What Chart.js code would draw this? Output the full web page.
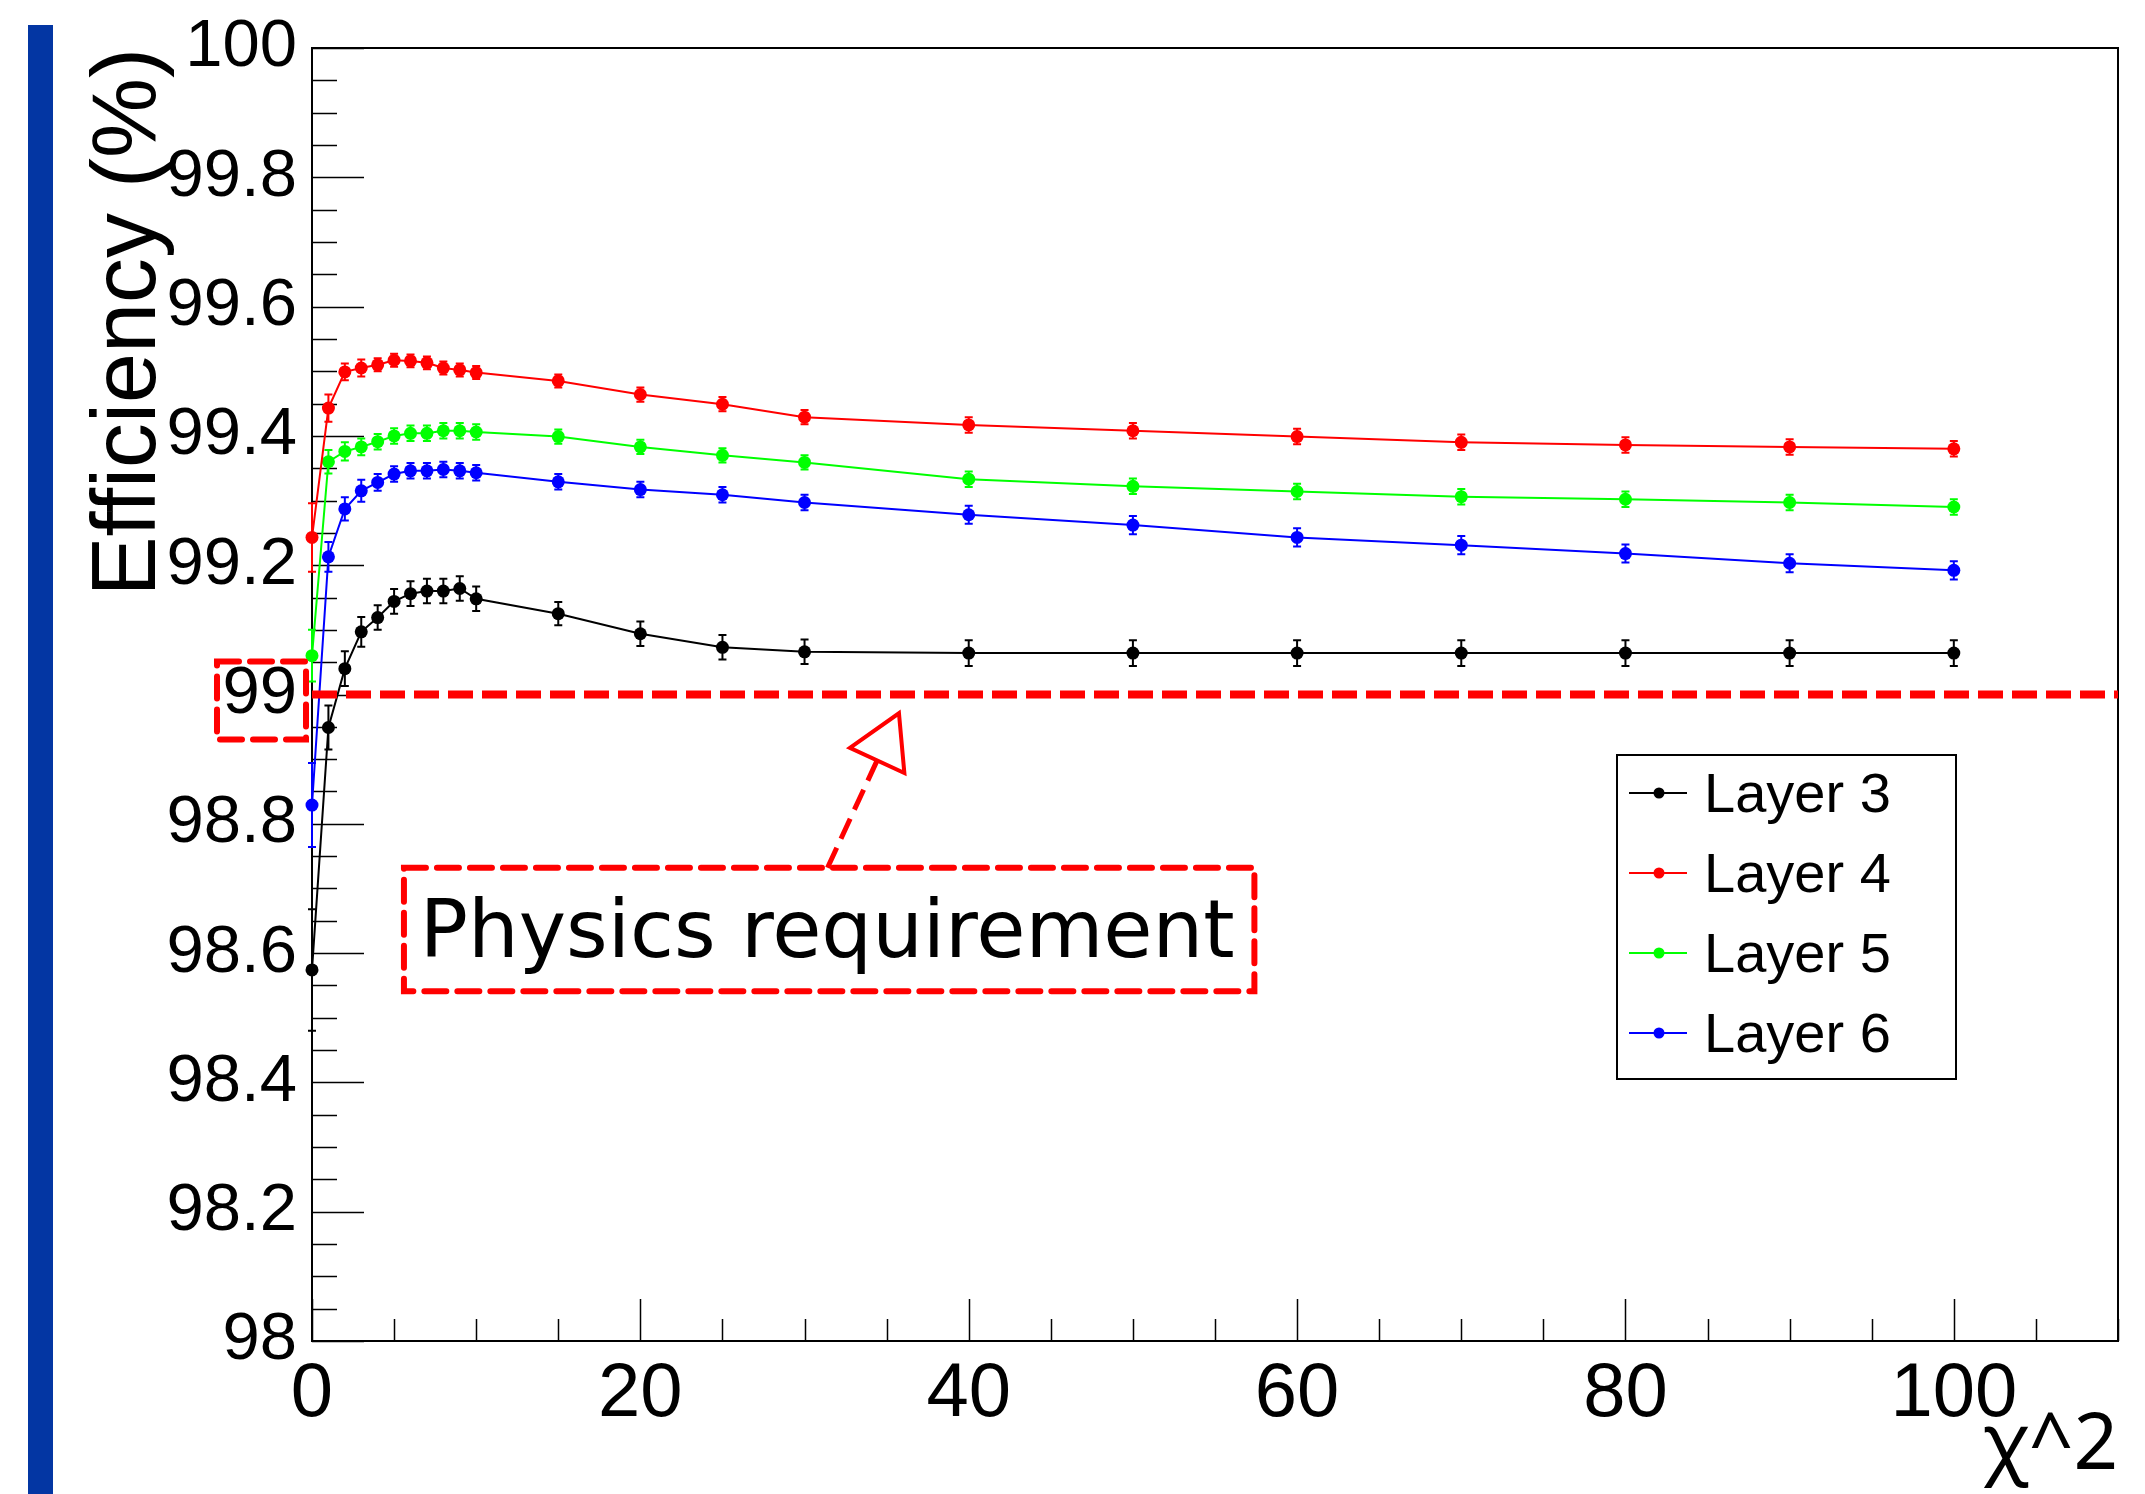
<!DOCTYPE html>
<html>
<head>
<meta charset="utf-8">
<title>Efficiency vs chi2 cut</title>
<script src="https://cdn.jsdelivr.net/npm/chart.js@4.4.0/dist/chart.umd.min.js"></script>
<style>
  html, body { margin: 0; padding: 0; background: #fff; }
  #wrap { position: relative; width: 2145px; height: 1494px; }
  #bar { position: absolute; left: 28px; top: 25px; width: 25px; height: 1469px; background: #0336a3; }
  canvas { position: absolute; left: 0; top: 0; }
</style>
</head>
<body>
<div id="wrap">
  <div id="bar"></div>
  <canvas id="effChart" width="2145" height="1494"></canvas>
</div>
<script>
// chi2 cut values (x) and efficiency (%) per layer
const chi2Cut = [0, 1, 2, 3, 4, 5, 6, 7, 8, 9, 10, 15, 20, 25, 30, 40, 50, 60, 70, 80, 90, 100];

const layer3 = [98.574, 98.949, 99.040, 99.097, 99.119, 99.144, 99.156, 99.160, 99.160, 99.164, 99.148,
                99.125, 99.094, 99.073, 99.066, 99.064, 99.064, 99.064, 99.064, 99.064, 99.064, 99.064];
const layer4 = [99.243, 99.443, 99.499, 99.505, 99.510, 99.517, 99.516, 99.513, 99.505, 99.502, 99.498,
                99.485, 99.464, 99.449, 99.429, 99.417, 99.408, 99.399, 99.390, 99.386, 99.383, 99.380];
const layer5 = [99.060, 99.360, 99.376, 99.383, 99.391, 99.400, 99.404, 99.404, 99.408, 99.408, 99.406,
                99.399, 99.383, 99.370, 99.359, 99.333, 99.322, 99.314, 99.306, 99.302, 99.297, 99.290];
const layer6 = [98.829, 99.213, 99.287, 99.315, 99.328, 99.341, 99.346, 99.346, 99.348, 99.346, 99.343,
                99.329, 99.317, 99.309, 99.297, 99.278, 99.262, 99.243, 99.231, 99.218, 99.203, 99.192];

// error bars (half widths, %)
const err3 = [0.094, 0.034, 0.027, 0.023, 0.019, 0.019, 0.019, 0.019, 0.019, 0.019, 0.019,
              0.018, 0.019, 0.019, 0.019, 0.020, 0.020, 0.020, 0.020, 0.020, 0.020, 0.020];
const err4 = [0.053, 0.021, 0.013, 0.013, 0.010, 0.010, 0.010, 0.010, 0.010, 0.010, 0.010,
              0.010, 0.011, 0.011, 0.011, 0.012, 0.012, 0.012, 0.012, 0.012, 0.012, 0.012];
const err5 = [0.040, 0.018, 0.014, 0.013, 0.012, 0.012, 0.012, 0.012, 0.012, 0.012, 0.012,
              0.011, 0.011, 0.011, 0.011, 0.012, 0.012, 0.012, 0.012, 0.012, 0.012, 0.012];
const err6 = [0.065, 0.023, 0.018, 0.017, 0.013, 0.012, 0.012, 0.012, 0.012, 0.012, 0.012,
              0.012, 0.012, 0.012, 0.012, 0.014, 0.014, 0.014, 0.014, 0.014, 0.014, 0.014];

const layerNames = ['Layer 3', 'Layer 4', 'Layer 5', 'Layer 6'];
const layerColors = ['#000000', '#ff0000', '#00ff00', '#0000ff'];

const xTicks = [0, 20, 40, 60, 80, 100];
const yTicks = [98, 98.2, 98.4, 98.6, 98.8, 99, 99.2, 99.4, 99.6, 99.8, 100];
const yTickLabels = ['98', '98.2', '98.4', '98.6', '98.8', '99', '99.2', '99.4', '99.6', '99.8', '100'];

const requirement = 99;
// annotation box and arrow, in data units
const noteBox = { x0: 5.6, x1: 57.4, y0: 98.732, y1: 98.541 };
const noteArrow = { x0: 31.4, y0: 98.732, x1: 35.75, y1: 98.971 };

const rootFont = '"Liberation Sans", Arial, Helvetica, sans-serif';

function points(ys) {
  return chi2Cut.map((c, i) => ({ x: c, y: ys[i] }));
}

const allLayers = [layer3, layer4, layer5, layer6];
const allErrors = [err3, err4, err5, err6];

const datasets = allLayers.map((ys, i) => ({
  label: layerNames[i],
  data: points(ys),
  borderColor: layerColors[i],
  backgroundColor: layerColors[i],
  pointBackgroundColor: layerColors[i],
  borderWidth: 2,
  pointRadius: 6.5,
  pointBorderWidth: 0,
  tension: 0,
  clip: false
}));

function dashedRect(ctx, x, y, w, h) {
  ctx.save();
  ctx.strokeStyle = '#ff0000';
  ctx.lineWidth = 6;
  ctx.lineCap = 'round';
  ctx.setLineDash([22, 11]);
  ctx.strokeRect(x, y, w, h);
  ctx.restore();
}

const rootDecor = {
  id: 'rootDecor',
  beforeDatasetsDraw(chart) {
    const { ctx, chartArea: a, scales: { x, y } } = chart;
    ctx.save();
    // frame
    ctx.strokeStyle = '#000';
    ctx.lineWidth = 2;
    ctx.strokeRect(a.left, a.top, a.right - a.left, a.bottom - a.top);
    // inward ticks
    ctx.lineWidth = 1.5;
    ctx.beginPath();
    for (let v = 0; v <= 110; v += 5) {
      const px = Math.round(x.getPixelForValue(v)) + 0.5;
      const len = v % 20 === 0 ? 42 : 22;
      ctx.moveTo(px, a.bottom);
      ctx.lineTo(px, a.bottom - len);
    }
    for (let i = 0; i <= 40; i++) {
      const py = Math.round(y.getPixelForValue(98 + i * 0.05)) + 0.5;
      const len = i % 4 === 0 ? 52 : 25;
      ctx.moveTo(a.left, py);
      ctx.lineTo(a.left + len, py);
    }
    ctx.stroke();

    // error bars
    ctx.lineWidth = 2;
    chart.data.datasets.forEach((ds, i) => {
      ctx.strokeStyle = ds.borderColor;
      ctx.beginPath();
      ds.data.forEach((p, j) => {
        const e = allErrors[i][j];
        const px = x.getPixelForValue(p.x);
        const top = y.getPixelForValue(p.y + e);
        const bot = y.getPixelForValue(p.y - e);
        ctx.moveTo(px, top); ctx.lineTo(px, bot);
        ctx.moveTo(px - 4, top); ctx.lineTo(px + 4, top);
        ctx.moveTo(px - 4, bot); ctx.lineTo(px + 4, bot);
      });
      ctx.stroke();
    });
    ctx.restore();
  },
  afterDatasetsDraw(chart) {
    const { ctx, chartArea: a, scales: { x, y } } = chart;
    ctx.save();

    // requirement line
    const yReq = y.getPixelForValue(requirement);
    ctx.strokeStyle = '#ff0000';
    ctx.lineWidth = 8;
    ctx.setLineDash([25, 9]);
    ctx.beginPath();
    ctx.moveTo(a.left, yReq);
    ctx.lineTo(a.right, yReq);
    ctx.stroke();
    ctx.setLineDash([]);

    // box around the "99" tick label
    dashedRect(ctx, a.left - 95, yReq - 33, 89, 78);

    // annotation box
    const bx0 = x.getPixelForValue(noteBox.x0), bx1 = x.getPixelForValue(noteBox.x1);
    const by0 = y.getPixelForValue(noteBox.y0), by1 = y.getPixelForValue(noteBox.y1);
    dashedRect(ctx, bx0, by0, bx1 - bx0, by1 - by0);
    ctx.fillStyle = '#000';
    ctx.font = '80px "DejaVu Sans", sans-serif';
    ctx.textAlign = 'center';
    ctx.textBaseline = 'alphabetic';
    ctx.fillText('Physics requirement', (bx0 + bx1) / 2 - 2, (by0 + by1) / 2 + 27);

    // arrow
    const tx = x.getPixelForValue(noteArrow.x0), ty = y.getPixelForValue(noteArrow.y0);
    const hx = x.getPixelForValue(noteArrow.x1), hy = y.getPixelForValue(noteArrow.y1);
    const len = Math.hypot(hx - tx, hy - ty);
    const ux = (hx - tx) / len, uy = (hy - ty) / len;
    const headLen = 52, headHalf = 30;
    const cx = hx - ux * headLen, cy = hy - uy * headLen;
    ctx.strokeStyle = '#ff0000';
    ctx.lineWidth = 5;
    ctx.setLineDash([22, 10]);
    ctx.beginPath();
    ctx.moveTo(tx, ty);
    ctx.lineTo(cx, cy);
    ctx.stroke();
    ctx.setLineDash([]);
    ctx.lineWidth = 4;
    ctx.beginPath();
    ctx.moveTo(hx, hy);
    ctx.lineTo(cx - uy * headHalf, cy + ux * headHalf);
    ctx.lineTo(cx + uy * headHalf, cy - ux * headHalf);
    ctx.closePath();
    ctx.stroke();

    // legend
    const lx = 1617, ly = 755, lw = 339, lh = 324;
    ctx.fillStyle = '#fff';
    ctx.fillRect(lx, ly, lw, lh);
    ctx.strokeStyle = '#000';
    ctx.lineWidth = 2;
    ctx.strokeRect(lx, ly, lw, lh);
    ctx.font = '56px ' + rootFont;
    ctx.textAlign = 'left';
    chart.data.datasets.forEach((ds, i) => {
      const ey = 793 + i * 80;
      ctx.strokeStyle = ds.borderColor;
      ctx.lineWidth = 2;
      ctx.beginPath();
      ctx.moveTo(1629, ey);
      ctx.lineTo(1687, ey);
      ctx.stroke();
      ctx.fillStyle = ds.borderColor;
      ctx.beginPath();
      ctx.arc(1659, ey, 5.5, 0, Math.PI * 2);
      ctx.fill();
      ctx.fillStyle = '#000';
      ctx.fillText(ds.label, 1704, ey + 19);
    });
    ctx.restore();
  }
};

new Chart(document.getElementById('effChart').getContext('2d'), {
  type: 'line',
  data: { datasets: datasets },
  options: {
    responsive: false,
    animation: false,
    layout: { padding: { top: 48, right: 27, left: 0, bottom: 0 } },
    plugins: { legend: { display: false }, tooltip: { enabled: false } },
    scales: {
      x: {
        type: 'linear',
        min: 0,
        max: 110,
        afterBuildTicks: s => { s.ticks = xTicks.map(v => ({ value: v })); },
        afterFit: s => { s.height = 153; s.paddingLeft = 0; s.paddingRight = 0; },
        grid: { display: false, drawTicks: false },
        border: { display: false },
        ticks: { color: '#000', font: { family: rootFont, size: 76 }, padding: 8, maxRotation: 0, autoSkip: false },
        title: { display: true, text: 'χ^2', align: 'end', color: '#000',
                 font: { family: '"Noto Sans", "DejaVu Sans", sans-serif', size: 78 }, padding: 0 }
      },
      y: {
        type: 'linear',
        min: 98,
        max: 100,
        afterBuildTicks: s => { s.ticks = yTicks.map(v => ({ value: v })); },
        afterFit: s => { s.width = 312; s.paddingTop = 0; s.paddingBottom = 0; },
        grid: { display: false, drawTicks: false },
        border: { display: false },
        ticks: { color: '#000', font: { family: rootFont, size: 67 }, padding: 15, autoSkip: false,
                 callback: (v, i) => yTickLabels[i] },
        title: { display: true, text: 'Efficiency (%)', align: 'end', color: '#000',
                 font: { family: rootFont, size: 90 }, padding: { top: 76, bottom: 0 } }
      }
    }
  },
  plugins: [rootDecor]
});
</script>
</body>
</html>
